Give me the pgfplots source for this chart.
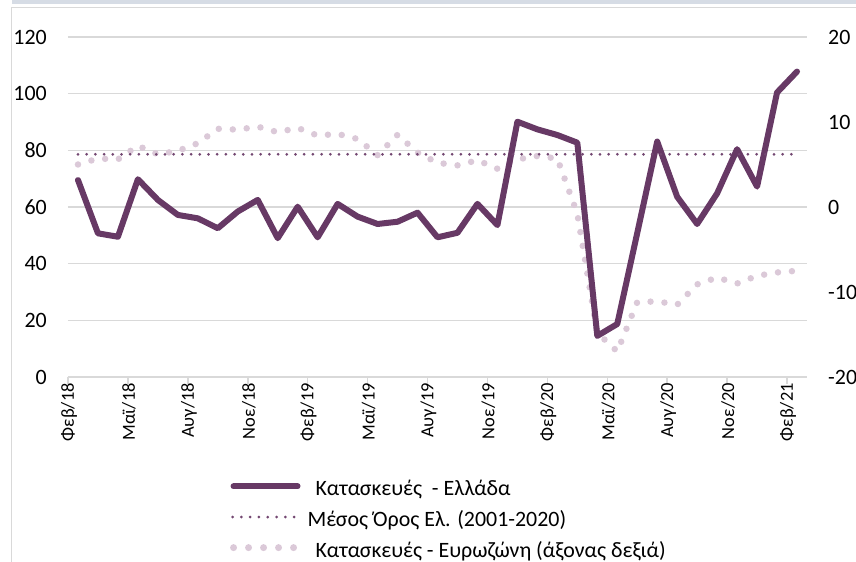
\documentclass[border=0pt]{standalone}
\usepackage{pgfplots}
\usepackage{pgfplotstable}
\pgfplotsset{compat=1.18}
\usepackage{fontspec}
\setmainfont{Carlito}
\definecolor{grc}{HTML}{673965}
\definecolor{meanc}{HTML}{734771}
\definecolor{euroc}{HTML}{DBC9D8}
\definecolor{gridc}{HTML}{D9D9D9}
\definecolor{stripc}{HTML}{D6DCE5}

\pgfplotstableread{
x y
0.5 69.5
1.5 50.7
2.5 49.5
3.5 69.8
4.5 62.5
5.5 57.2
6.5 56.0
7.5 52.5
8.5 58.4
9.5 62.5
10.5 49.0
11.5 60.1
12.5 49.3
13.5 61.1
14.5 56.6
15.5 54.0
16.5 54.8
17.5 58.0
18.5 49.3
19.5 50.9
20.5 61.1
21.5 53.6
22.5 90.1
23.5 87.4
24.5 85.4
25.5 82.7
26.5 14.5
27.5 18.7
28.5 50.8
29.5 83.1
30.5 63.6
31.5 54.0
32.5 64.8
33.5 80.4
34.5 67.2
35.5 100.4
36.5 107.8
}\greece

\pgfplotstableread{
x y
0.5 5.0
1.5 5.7
2.5 5.6
3.5 7.2
4.5 6.2
5.5 6.6
6.5 7.5
7.5 9.2
8.5 9.1
9.5 9.45
10.5 8.8
11.5 9.3
12.5 8.4
13.5 8.6
14.5 8.0
15.5 6.1
16.5 8.5
17.5 6.4
18.5 5.2
19.5 4.9
20.5 5.5
21.5 4.5
22.5 5.6
23.5 6.0
24.5 5.7
25.5 -0.8
26.5 -14.8
27.5 -17.0
28.5 -11.2
29.5 -11.1
30.5 -11.5
31.5 -9.1
32.5 -8.3
33.5 -9.0
34.5 -8.1
35.5 -7.7
36.5 -7.5
}\euro

\pgfplotstableread{
x y
0.5 78.6
36.5 78.6
}\meanline

\begin{document}
\begin{tikzpicture}[x=1bp,y=1bp]
\fill[stripc] (-56.3,372.5) rectangle (788,377);
\draw[gridc, line width=1.5bp] (-56.3,-186) -- (-56.3,369.7) -- (789,369.7);

\begin{axis}[
  set layers,
  scale only axis, width=739bp, height=340bp,
  at={(0,0)}, anchor=south west,
  xmin=0, xmax=37, ymin=0, ymax=120,
  axis x line*=bottom, axis y line*=left,
  y axis line style={draw=none},
  x axis line style={gridc, line width=1.5bp, -},
  xtick={0,3,...,36},
  xticklabels={Φεβ/18,Μαϊ/18,Αυγ/18,Νοε/18,Φεβ/19,Μαϊ/19,Αυγ/19,Νοε/19,Φεβ/20,Μαϊ/20,Αυγ/20,Νοε/20,Φεβ/21},
  xticklabel style={rotate=90, anchor=east, font=\fontsize{18.5}{18.5}\selectfont, inner sep=0pt, yshift=-1bp, xshift=1bp, text=black},
  x tick style={gridc, line width=1.5bp},
  tick align=outside, major tick length=7bp,
  ytick={0,20,...,120}, yticklabels={0,20,40,60,80,100,120},
  y tick style={draw=none},
  ymajorgrids, grid style={gridc, line width=1.5bp},
  yticklabel style={font=\fontsize{22}{22}\selectfont, inner sep=0pt, xshift=-14bp, text=black},
  legend cell align=left,
  legend style={draw=none, fill=none, at={(axis description cs:0.219,-0.308)}, anchor=north west,
    font=\fontsize{22}{22}\selectfont, inner sep=0pt, row sep=11.6bp,
    nodes={inner sep=0pt, text height=14bp, text depth=5bp},
    /tikz/every odd column/.append style={column sep=15bp}},
]
\addplot[grc, line width=6bp, line join=round, line cap=round,
  legend image code/.code={\draw[grc, line width=6bp, line cap=round] (3bp,5bp) -- (67bp,5bp);}]
  table[x=x,y=y] {\greece};
\addlegendentry{Κατασκευές \ - Ελλάδα}
\addplot[meanc, line width=3bp, line cap=round, dash pattern=on 0bp off 8.7bp,
  legend image code/.code={\draw[meanc, line width=3bp, line cap=round, dash pattern=on 0bp off 8.8bp] (2bp,5bp) -- (64bp,5bp);}]
  table[x=x,y=y] {\meanline};
\addlegendentry{\hspace{-8bp}Μέσος Όρος Ελ. (2001-2020)}
\addlegendimage{legend image code/.code={\draw[euroc, line width=7bp, line cap=round, dash pattern=on 0bp off 15bp] (3bp,5bp) -- (64bp,5bp);}}
\addlegendentry{Κατασκευές - Ευρωζώνη (άξονας δεξιά)}
\end{axis}

\begin{axis}[
  set layers,
  scale only axis, width=739bp, height=340bp,
  at={(0,0)}, anchor=south west,
  xmin=0, xmax=37, ymin=-20, ymax=20,
  axis x line=none, axis y line*=right,
  y axis line style={draw=none},
  ytick={-20,-10,0,10,20}, yticklabels={-20,-10,0,10,20},
  y tick style={draw=none},
  yticklabel style={anchor=west, font=\fontsize{22}{22}\selectfont, inner sep=0pt, xshift=21bp, text=black},
]
\addplot[on layer=pre main, euroc, line width=6.5bp, line cap=round, dash pattern=on 0bp off 14bp]
  table[x=x,y=y] {\euro};
\end{axis}
\pgfresetboundingbox
\path[use as bounding box] (-68,-185) rectangle (788,377);
\end{tikzpicture}
\end{document}
